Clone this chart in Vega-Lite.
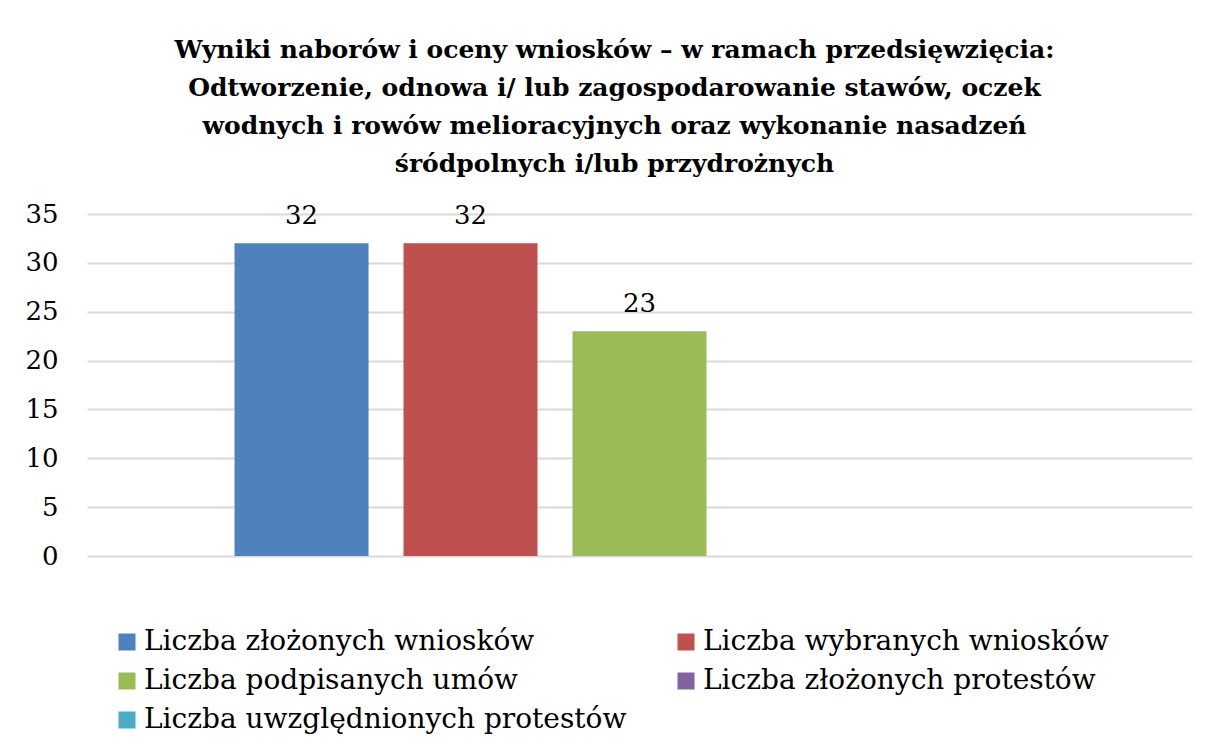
{
  "$schema": "https://vega.github.io/schema/vega-lite/v6.json",
  "autosize": "none",
  "width": 1105,
  "height": 342,
  "padding": {"left": 87, "top": 214, "right": 17, "bottom": 189},
  "background": "white",
  "config": {
    "font": "DejaVu Serif",
    "view": {"stroke": null}
  },
  "title": {
    "text": [
      "Wyniki naborów i oceny wniosków – w ramach przedsięwzięcia:",
      "Odtworzenie, odnowa i/ lub zagospodarowanie stawów, oczek",
      "wodnych i rowów melioracyjnych oraz wykonanie nasadzeń",
      "śródpolnych i/lub przydrożnych"
    ],
    "font": "DejaVu Serif",
    "fontSize": 25,
    "fontWeight": "bold",
    "lineHeight": 38,
    "color": "black",
    "anchor": "middle",
    "frame": "group",
    "dx": -25,
    "offset": 24
  },
  "data": {
    "values": [
      {"seria": "Liczba złożonych wniosków", "wartosc": 32},
      {"seria": "Liczba wybranych wniosków", "wartosc": 32},
      {"seria": "Liczba podpisanych umów", "wartosc": 23},
      {"seria": "Liczba złożonych protestów", "wartosc": 0},
      {"seria": "Liczba uwzględnionych protestów", "wartosc": 0}
    ]
  },
  "encoding": {
    "x": {
      "field": "seria",
      "type": "nominal",
      "sort": null,
      "axis": null,
      "scale": {"paddingInner": 0.207, "paddingOuter": 0.873}
    },
    "y": {
      "field": "wartosc",
      "type": "quantitative",
      "scale": {"domain": [0, 35], "nice": false},
      "axis": {
        "title": null,
        "values": [0, 5, 10, 15, 20, 25, 30, 35],
        "domain": false,
        "ticks": false,
        "labelPadding": 29,
        "labelFont": "DejaVu Serif",
        "labelFontSize": 26,
        "labelColor": "black",
        "gridColor": "#d9d9d9",
        "gridWidth": 2
      }
    }
  },
  "layer": [
    {
      "mark": {"type": "bar"},
      "encoding": {
        "color": {
          "field": "seria",
          "type": "nominal",
          "sort": null,
          "scale": {
            "domain": [
              "Liczba złożonych wniosków",
              "Liczba wybranych wniosków",
              "Liczba podpisanych umów",
              "Liczba złożonych protestów",
              "Liczba uwzględnionych protestów"
            ],
            "range": ["#4f81bd", "#c0504d", "#9bbb59", "#8064a2", "#4bacc6"]
          },
          "legend": {
            "title": null,
            "orient": "none",
            "legendX": 26,
            "legendY": 414,
            "direction": "horizontal",
            "columns": 2,
            "columnPadding": 45,
            "rowPadding": 11,
            "symbolType": "square",
            "symbolSize": 289,
            "symbolStrokeWidth": 0,
            "labelFont": "DejaVu Serif",
            "labelFontSize": 28,
            "labelColor": "black",
            "labelOffset": 3,
            "labelLimit": 600
          }
        }
      }
    },
    {
      "transform": [{"filter": "datum.wartosc > 0"}],
      "mark": {
        "type": "text",
        "baseline": "alphabetic",
        "dy": -19,
        "font": "DejaVu Serif",
        "fontSize": 26,
        "color": "black"
      },
      "encoding": {
        "text": {"field": "wartosc", "type": "quantitative"}
      }
    }
  ]
}
